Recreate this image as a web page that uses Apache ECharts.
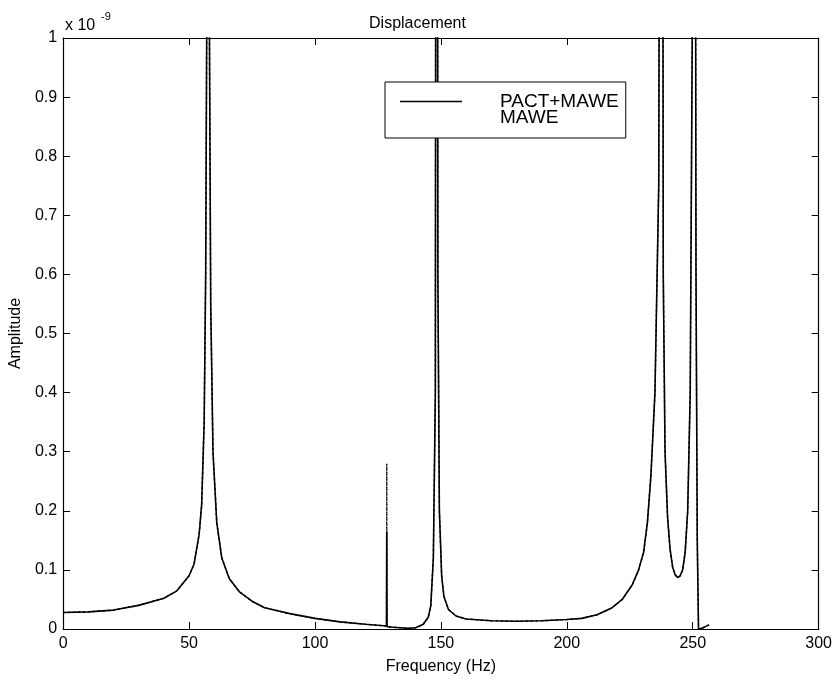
<!DOCTYPE html>
<html>
<head>
<meta charset="utf-8">
<script src="https://cdn.jsdelivr.net/npm/echarts@6.0.0/dist/echarts.min.js"></script>
<style>
  html, body { margin: 0; padding: 0; background: #fff; }
  #chart { width: 835px; height: 680px; }
</style>
</head>
<body>
<div id="chart"></div>
<script>
// 频率 (Hz) 与幅值 (x 1e-9)
var pactFreq = [0, 10, 20, 30, 40, 45, 50, 52, 54, 55, 56, 56.6, 57.0, 57.5, 58.1, 58.6, 59.5, 61, 63, 66,
  70, 75, 80, 90, 100, 110, 120, 126, 128.4, 128.5, 128.6, 131, 134, 137, 140, 143, 145, 146, 147, 147.8,
  148.3, 148.8, 149.4, 150.3, 151.2, 153, 156, 160, 170, 180, 190, 200, 206, 212, 218, 222, 226, 228.5, 230.5, 232,
  233.4, 235, 236.5, 237.7, 238.3, 239, 240, 241, 242, 243, 244, 245, 246, 247, 248, 249, 249.8, 250.5,
  251.3, 251.8, 252.3, 253.5, 255, 256.5];
var pactAmp = [0.028, 0.029, 0.032, 0.04, 0.052, 0.064, 0.09, 0.11, 0.16, 0.21, 0.35, 0.6, 1.0, 3, 1.0, 0.55, 0.3, 0.18, 0.12, 0.085,
  0.063, 0.047, 0.036, 0.026, 0.018, 0.012, 0.008, 0.006, 0.005, 0.165, 0.004, 0.003, 0.002, 0.001, 0.002, 0.008, 0.02, 0.04, 0.12, 0.4,
  3, 0.6, 0.2, 0.09, 0.055, 0.033, 0.022, 0.017, 0.014, 0.013, 0.014, 0.016, 0.018, 0.024, 0.036, 0.05, 0.075, 0.1, 0.13, 0.18,
  0.26, 0.4, 0.75, 3, 0.6, 0.3, 0.19, 0.135, 0.105, 0.092, 0.087, 0.09, 0.1, 0.13, 0.2, 0.4, 1.0, 3,
  0.6, 0.15, 0.0, 0.001, 0.004, 0.007];

// MAWE 曲线（虚线），与上面基本重合，只在 128.5 Hz 处的尖峰更高
var maweFreq = pactFreq;
var maweAmp = [0.028, 0.029, 0.032, 0.04, 0.052, 0.064, 0.09, 0.11, 0.16, 0.21, 0.35, 0.6, 1.0, 3, 1.0, 0.55, 0.3, 0.18, 0.12, 0.085,
  0.063, 0.047, 0.036, 0.026, 0.018, 0.012, 0.008, 0.006, 0.005, 0.28, 0.004, 0.003, 0.002, 0.001, 0.002, 0.008, 0.02, 0.04, 0.12, 0.4,
  3, 0.6, 0.2, 0.09, 0.055, 0.033, 0.022, 0.017, 0.014, 0.013, 0.014, 0.016, 0.018, 0.024, 0.036, 0.05, 0.075, 0.1, 0.13, 0.18,
  0.26, 0.4, 0.75, 3, 0.6, 0.3, 0.19, 0.135, 0.105, 0.092, 0.087, 0.09, 0.1, 0.13, 0.2, 0.4, 1.0, 3,
  0.6, 0.15, 0.0, 0.001, 0.004, 0.007];

var seriesNames = ['PACT+MAWE', 'MAWE'];

function pairs(xs, ys) {
  var out = [];
  for (var i = 0; i < xs.length; i++) out.push([xs[i], ys[i]]);
  return out;
}

var font = 'Liberation Sans, Arial, Helvetica, sans-serif';
var myChart = echarts.init(document.getElementById('chart'));

// 坐标轴四周都画刻度（朝内），模仿 MATLAB 的 box on
var tickStyle = { show: true, inside: true, length: 7, lineStyle: { color: '#000', width: 1 } };
var axisLine = { show: true, onZero: false, lineStyle: { color: '#000', width: 1.2 } };

myChart.setOption({
  backgroundColor: '#fff',
  animation: false,
  title: {
    text: 'Displacement',
    left: 'center',
    top: 11,
    textStyle: { fontFamily: font, fontSize: 16, fontWeight: 'normal', color: '#000' }
  },
  legend: {
    left: 385,
    top: 82,
    orient: 'vertical',
    padding: [10, 7, 11, 15],
    itemGap: -3, // 两行文字挨得很近
    itemWidth: 62,
    itemHeight: 1.6,
    icon: 'rect',
    backgroundColor: '#fff', // 图例框遮住后面的曲线
    borderColor: '#000',
    borderWidth: 1,
    textStyle: { fontFamily: font, fontSize: 19, color: '#000', lineHeight: 16, padding: [0, 0, 0, 33] },
    data: [
      { name: 'PACT+MAWE', itemStyle: { color: '#000' } },
      { name: 'MAWE', itemStyle: { opacity: 0 } }
    ]
  },
  grid: { left: 58, right: 15, top: 38, bottom: 44 },
  xAxis: [
    {
      type: 'value', min: 0, max: 300, interval: 50,
      name: 'Frequency (Hz)', nameLocation: 'middle', nameGap: 30,
      nameTextStyle: { fontFamily: font, fontSize: 16, color: '#000' },
      axisLine: axisLine, axisTick: tickStyle,
      axisLabel: { fontFamily: font, fontSize: 16, color: '#000', margin: 7 },
      splitLine: { show: false }
    },
    {
      type: 'value', position: 'top', min: 0, max: 300, interval: 50,
      axisLine: axisLine, axisTick: tickStyle, axisLabel: { show: false }, splitLine: { show: false }
    }
  ],
  yAxis: [
    {
      type: 'value', min: 0, max: 1, interval: 0.1,
      name: 'Amplitude', nameLocation: 'middle', nameGap: 35,
      nameTextStyle: { fontFamily: font, fontSize: 16, color: '#000' },
      axisLine: axisLine, axisTick: tickStyle,
      axisLabel: {
        fontFamily: font, fontSize: 16, color: '#000', margin: 6,
        formatter: function (v) { return String(Math.round(v * 10) / 10); }
      },
      splitLine: { show: false }
    },
    {
      type: 'value', position: 'right', min: 0, max: 1, interval: 0.1,
      axisLine: axisLine, axisTick: tickStyle, axisLabel: { show: false }, splitLine: { show: false }
    }
  ],
  graphic: [
    // 科学计数的倍数 x 10^-9
    { type: 'text', left: 65, top: 18, style: { text: 'x 10', font: '16px ' + font, fill: '#000' } },
    { type: 'text', left: 101, top: 11, style: { text: '-9', font: '11px ' + font, fill: '#000' } }
  ],
  series: [
    {
      name: seriesNames[0],
      type: 'line',
      symbol: 'none',
      clip: true,
      lineStyle: { color: '#000', width: 1.6 },
      itemStyle: { color: '#000' },
      data: pairs(pactFreq, pactAmp),
      z: 3
    },
    {
      name: seriesNames[1],
      type: 'line',
      symbol: 'none',
      clip: true,
      lineStyle: { color: '#000', width: 1.4, type: [2, 3] },
      itemStyle: { color: '#000' },
      data: pairs(maweFreq, maweAmp),
      z: 2
    }
  ]
});
</script>
</body>
</html>
